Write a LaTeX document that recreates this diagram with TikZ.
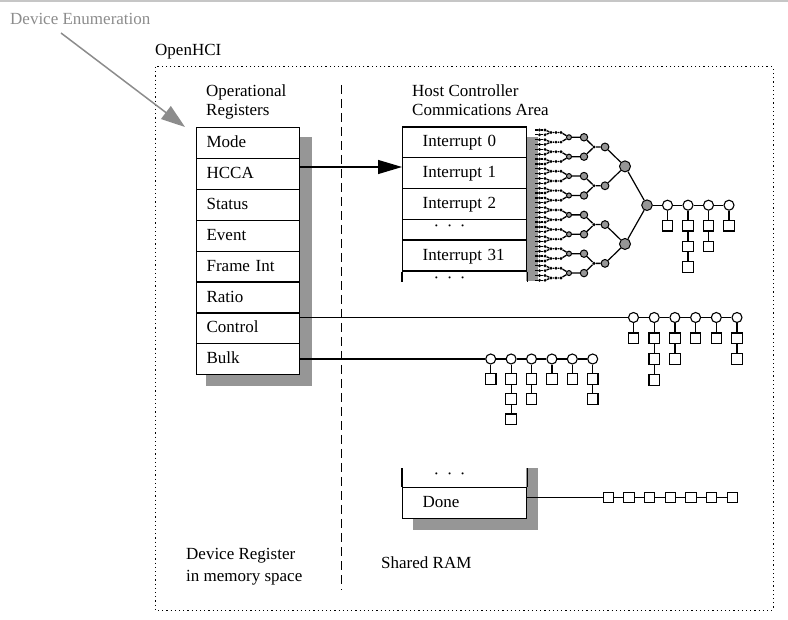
\documentclass[tikz,border=0pt]{standalone}
\usepackage{fontspec}
\setmainfont{Liberation Serif}
\usetikzlibrary{arrows.meta}
\definecolor{shadowgray}{RGB}{150,150,150}
\definecolor{enumgray}{RGB}{140,140,140}
\begin{document}
\begin{tikzpicture}[x=1pt,y=-1pt,
  font=\fontsize{17}{20}\selectfont,
  lbl/.style={anchor=base west, inner sep=0pt},
  reg/.style={draw, line width=1.2pt, fill=white, minimum width=103pt, minimum height=30.9pt, anchor=north west, inner sep=0pt, text width=83pt, align=left, text height=12pt, text depth=3pt},
  icell/.style={draw, line width=1.2pt, fill=white, minimum width=124pt, anchor=north west, inner sep=0pt, text width=84pt, align=left, text height=12pt, text depth=3pt},
  wc/.style={circle, draw, line width=1.1pt, fill=white, minimum size=10pt, inner sep=0pt},
  sq/.style={rectangle, draw, line width=1.1pt, fill=white, minimum size=10.5pt, inner sep=0pt},
  tdot/.style={circle, fill=black, minimum size=3.2pt, inner sep=0pt},
  gnode/.style={circle, draw, line width=1pt, fill=shadowgray, inner sep=0pt},
  conn/.style={line width=1.2pt},
  tl/.style={line width=1.3pt},
]
\useasboundingbox (0,0) rectangle (788,620);
\draw[gray!45, line width=2pt] (0,1) -- (788,1);

% labels
\node[lbl, text=enumgray] (denum) at (10,24.5) {Device Enumeration};
\node[lbl] (ohci) at (155,56) {OpenHCI};
\node[lbl] (op1) at (206,97) {Operational};
\node[lbl] (op2) at (206,116) {Registers};
\node[lbl] (hc1) at (412,97) {Host Controller};
\node[lbl] (hc2) at (412,116) {Commications Area};
\node[lbl] (dr1) at (186,559) {Device Register};
\node[lbl] (dr2) at (186,581) {in memory space};
\node[lbl] (sram) at (381,568) {Shared RAM};

% frame and divider
\draw[dash pattern=on 1.2pt off 3pt, line width=1pt] (155,67) rectangle (773,610);
\draw[dash pattern=on 9pt off 5pt, line width=1pt] (341,85) -- (341,590);

% device enumeration arrow
\coordinate (deS) at (61,33);
\coordinate (deE) at (185,127);
\draw[enumgray, line width=1.5pt, -{Triangle[length=24pt,width=16pt]}] (deS) -- (deE);

% shadows
\fill[shadowgray] (206,137) rectangle (312,386);
\fill[shadowgray] (526,137) rectangle (538,281);
\fill[shadowgray] (413,468) rectangle (538,530);

% register table
\foreach \t/\nm [count=\i from 0] in {Mode/mode, HCCA/hcca, Status/status, Event/event, Frame Int/frameint, Ratio/ratio, Control/control, Bulk/bulk} {
  \node[reg] (\nm) at (196,{127+30.9*\i}) {\t};
}

% interrupt table
\node[icell, minimum height=30.5pt] (int0) at (402,126.5) {Interrupt 0};
\node[icell, minimum height=31pt] (int1) at (402,157) {Interrupt 1};
\node[icell, minimum height=31pt] (int2) at (402,188) {Interrupt 2};
\node[icell, minimum height=20.5pt] (intdots) at (402,219) {};
\node[icell, minimum height=31pt] (int31) at (402,239.5) {Interrupt 31};
\fill[white] (int31.south west) rectangle (526,281);
\draw[line width=1.2pt] (int31.south west) -- ++(0,10.5);
\draw[line width=1.2pt] (int31.south east) -- ++(0,10.5);
\node[lbl] (idots1) at (433.5,232) {·\hspace{7.4pt}·\hspace{7.4pt}·};
\node[lbl] (idots2) at (433.5,283.5) {·\hspace{7.4pt}·\hspace{7.4pt}·};

% done table
\fill[white] (402,468) rectangle (526,487);
\node[icell, minimum height=31pt] (done) at (402,487) {Done};
\draw[line width=1.2pt] (done.north west) -- ++(0,-19);
\draw[line width=1.2pt] (done.north east) -- ++(0,-19);
\node[lbl] (ddots) at (433.5,479.5) {·\hspace{7.4pt}·\hspace{7.4pt}·};

% HCCA arrow
\coordinate (hccaout) at (299,167);
\draw[conn, -{Triangle[length=24pt,width=14pt]}] (hccaout) -- (hccaout -| int1.west);

% interrupt tree
\foreach \i in {0,...,31} {
  \pgfmathsetmacro\yy{130+4.85*\i}
  \coordinate (t0s\i) at (535,\yy);
  \node[tdot] (t0a\i) at (539.5,\yy) {};
  \node[tdot] (t0b\i) at (545,\yy) {};
  \draw[tl] (t0s\i) -- (t0a\i) -- (t0b\i);
}
\foreach \j in {0,...,15} {
  \pgfmathsetmacro\yy{130+4.85*(2*\j+0.5)}
  \pgfmathtruncatemacro\ca{2*\j}
  \pgfmathtruncatemacro\cb{2*\j+1}
  \node[tdot] (t1a\j) at (551,\yy) {};
  \node[tdot] (t1b\j) at (556,\yy) {};
  \node[tdot] (t1c\j) at (561,\yy) {};
  \draw[tl] (t0b\ca) -- (t1a\j) -- (t1b\j) -- (t1c\j);
  \draw[tl] (t0b\cb) -- (t1a\j);
}
\foreach \k in {0,...,7} {
  \pgfmathsetmacro\yy{130+4.85*(4*\k+1.5)}
  \pgfmathtruncatemacro\ca{2*\k}
  \pgfmathtruncatemacro\cb{2*\k+1}
  \node[gnode, minimum size=5pt] (t2a\k) at (569,\yy) {};
  \node[gnode, minimum size=7.4pt] (t2b\k) at (584,\yy) {};
  \draw[tl] (t1c\ca) -- (t2a\k) -- (t2b\k);
  \draw[tl] (t1c\cb) -- (t2a\k);
}
\foreach \m in {0,...,3} {
  \pgfmathsetmacro\yy{130+4.85*(8*\m+3.5)}
  \pgfmathtruncatemacro\ca{2*\m}
  \pgfmathtruncatemacro\cb{2*\m+1}
  \node[tdot, minimum size=3.4pt] (t3a\m) at (594,\yy) {};
  \node[gnode, minimum size=7.8pt] (t3b\m) at (605,\yy) {};
  \draw[tl] (t2b\ca) -- (t3a\m) -- (t3b\m);
  \draw[tl] (t2b\cb) -- (t3a\m);
}
\foreach \q in {0,1} {
  \pgfmathsetmacro\yy{130+4.85*(16*\q+7.5)}
  \pgfmathtruncatemacro\ca{2*\q}
  \pgfmathtruncatemacro\cb{2*\q+1}
  \node[gnode, minimum size=11pt] (t4\q) at (625,\yy) {};
  \draw[conn] (t3b\ca) -- (t4\q);
  \draw[conn] (t3b\cb) -- (t4\q);
}
\node[gnode, minimum size=10.6pt] (troot) at (647,205.2) {};
\draw[conn] (t40) -- (troot);
\draw[conn] (t41) -- (troot);

% interrupt endpoint chain
\foreach \k/\cnt in {0/1,1/3,2/2,3/1} {
  \node[wc] (ic\k) at ({667.5+20.5*\k},205.2) {};
  \foreach \m in {1,...,\cnt} {
    \pgfmathtruncatemacro\prv{\m-1}
    \node[sq] (is\k-\m) at ({667.5+20.5*\k},{205.2+20.6*\m}) {};
    \ifnum\m=1 \draw[conn] (ic\k) -- (is\k-\m); \else \draw[conn] (is\k-\prv) -- (is\k-\m); \fi
  }
}
\draw[conn] (troot) -- (ic0) -- (ic1) -- (ic2) -- (ic3);

% control chain
\coordinate (ctrlout) at (299,317.5);
\foreach \k/\cnt in {0/1,1/3,2/2,3/1,4/1,5/2} {
  \node[wc] (cc\k) at ({633.5+20.7*\k},317.5) {};
  \foreach \m in {1,...,\cnt} {
    \pgfmathtruncatemacro\prv{\m-1}
    \node[sq] (cs\k-\m) at ({633.5+20.7*\k},{317.5+20.8*\m}) {};
    \ifnum\m=1 \draw[conn] (cc\k) -- (cs\k-\m); \else \draw[conn] (cs\k-\prv) -- (cs\k-\m); \fi
  }
}
\draw[conn] (ctrlout) -- (cc0) -- (cc1) -- (cc2) -- (cc3) -- (cc4) -- (cc5);

% bulk chain
\coordinate (bulkout) at (299,359);
\foreach \k/\cnt in {0/1,1/3,2/2,3/1,4/1,5/2} {
  \node[wc] (bc\k) at ({490.7+20.4*\k},359) {};
  \foreach \m in {1,...,\cnt} {
    \pgfmathtruncatemacro\prv{\m-1}
    \node[sq] (bs\k-\m) at ({490.7+20.4*\k},{359+20.1*\m}) {};
    \ifnum\m=1 \draw[conn] (bc\k) -- (bs\k-\m); \else \draw[conn] (bs\k-\prv) -- (bs\k-\m); \fi
  }
}
\draw[conn] (bulkout) -- (bc0) -- (bc1) -- (bc2) -- (bc3) -- (bc4) -- (bc5);

% done chain
\coordinate (doneout) at (526,497.5);
\foreach \k in {0,...,6} {
  \node[sq] (ds\k) at ({608.3+20.67*\k},497.5) {};
}
\draw[conn] (doneout) -- (ds0) -- (ds1) -- (ds2) -- (ds3) -- (ds4) -- (ds5) -- (ds6);
\end{tikzpicture}
\end{document}
